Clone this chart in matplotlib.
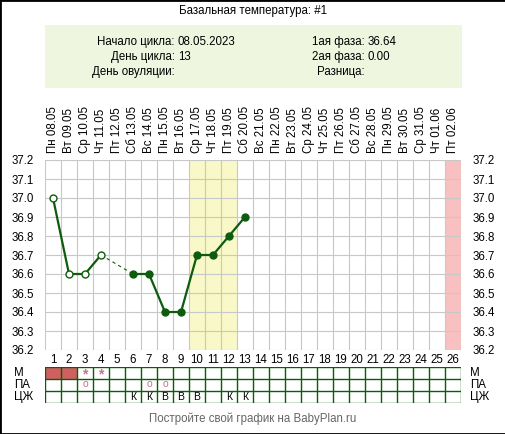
import matplotlib
matplotlib.use("Agg")
import matplotlib.pyplot as plt
from matplotlib.patches import Rectangle
import numpy as np

days = list(range(1, 27))
dates = ["Пн 08.05","Вт 09.05","Ср 10.05","Чт 11.05","Пт 12.05","Сб 13.05","Вс 14.05",
         "Пн 15.05","Вт 16.05","Ср 17.05","Чт 18.05","Пт 19.05","Сб 20.05","Вс 21.05",
         "Пн 22.05","Вт 23.05","Ср 24.05","Чт 25.05","Пт 26.05","Сб 27.05","Вс 28.05",
         "Пн 29.05","Вт 30.05","Ср 31.05","Чт 01.06","Пт 02.06"]
temp_days = [1, 2, 3, 4, 6, 7, 8, 9, 10, 11, 12, 13]
temps = [37.0, 36.6, 36.6, 36.7, 36.6, 36.6, 36.4, 36.4, 36.7, 36.7, 36.8, 36.9]
open_days = [1, 2, 3, 4]
m_fill = [1, 2]
m_star = [3, 4]
pa_o = [3, 7, 8]
cj_days = [6, 7, 8, 9, 10, 12, 13]
cj_vals = ["К", "К", "В", "В", "В", "К", "К"]
yellow_days = [10, 11, 12]
pink_days = [26]
yticks = [37.2, 37.1, 37.0, 36.9, 36.8, 36.7, 36.6, 36.5, 36.4, 36.3, 36.2]
info_left = [("Начало цикла:", "08.05.2023"), ("День цикла:", "13"), ("День овуляции:", "")]
info_right = [("1ая фаза:", "36.64"), ("2ая фаза:", "0.00"), ("Разница:", "")]

W, H = 506, 434
plt.rcParams['font.family'] = ['Liberation Sans', 'DejaVu Sans']
fig = plt.figure(figsize=(W/100, H/100), dpi=100)
fs = 8.3

def fx(px): return px / W
def fy(py): return 1 - py / H

fig.patches.append(Rectangle((0, 0), 1, 1, transform=fig.transFigure, fill=False,
                             edgecolor='black', lw=2))
fig.patches.append(Rectangle((fx(45), fy(88)), fx(417), 63/H, transform=fig.transFigure,
                             facecolor='#eef6e0', edgecolor='none'))
fig.text(0.5, fy(11), "Базальная температура: #1", ha='center', va='center', fontsize=fs)
for i, (lab, val) in enumerate(info_left):
    y = fy(42 + 15 * i)
    fig.text(fx(175), y, lab, ha='right', va='center', fontsize=fs)
    fig.text(fx(178), y, val, ha='left', va='center', fontsize=fs)
for i, (lab, val) in enumerate(info_right):
    y = fy(42 + 15 * i)
    fig.text(fx(365), y, lab, ha='right', va='center', fontsize=fs)
    fig.text(fx(368), y, val, ha='left', va='center', fontsize=fs)

ax = fig.add_axes([fx(45), fy(350), 416/W, 190/H])
ax.set_xlim(0.5, 26.5)
ax.set_ylim(36.2, 37.2)
for d in yellow_days:
    ax.axvspan(d - 0.5, d + 0.5, color='#f8f8c8', lw=0, zorder=0)
for d in pink_days:
    ax.axvspan(d - 0.5, d + 0.5, color='#f8c0c0', lw=0, zorder=0)
for x in np.arange(0.5, 27, 1):
    ax.axvline(x, color='#c8c8c8', lw=0.8, zorder=1)
for y in yticks:
    ax.axhline(y, color='#c8c8c8', lw=0.8, zorder=1)
for s in ax.spines.values():
    s.set_visible(False)
ax.set_xticks(days)
ax.set_xticklabels([str(d) for d in days], fontsize=fs)
ax.tick_params(axis='both', length=0, pad=3)
ax.set_yticks(yticks)
ax.set_yticklabels([f"{y:.1f}" for y in yticks], fontsize=fs)
ax.tick_params(axis='y', labelright=True, pad=8)
sec = ax.secondary_xaxis('top')
sec.set_xticks(days)
sec.set_xticklabels(dates, rotation=90, fontsize=fs)
sec.tick_params(length=0, pad=5)
for s in sec.spines.values():
    s.set_visible(False)

green = '#0d5c0d'
td = np.array(temp_days); tv = np.array(temps)
seg1 = td <= 4
ax.plot(td[seg1], tv[seg1], color=green, lw=1.6, zorder=3)
ax.plot(td[~seg1], tv[~seg1], color=green, lw=1.6, zorder=3)
ax.plot([4, 6], [temps[3], temps[4]], color=green, lw=0.8, ls=(0, (3, 3)), zorder=3)
for d, v in zip(temp_days, temps):
    ax.plot(d, v, 'o', ms=5, mec=green, mfc='white' if d in open_days else green,
            mew=1, zorder=4)

tb = fig.add_axes([fx(45), fy(403), 416/W, 36/H])
tb.set_xlim(0.5, 26.5)
tb.set_ylim(0, 3)
tb.axis('off')
for d in m_fill:
    tb.add_patch(Rectangle((d - 0.5, 2), 1, 1, facecolor='#d06060', edgecolor='none'))
for x in np.arange(0.5, 27, 1):
    tb.plot([x, x], [0, 3], color=green, lw=1)
for y in range(4):
    tb.plot([0.5, 26.5], [y, y], color=green, lw=1)
for d in m_star:
    tb.text(d, 2.35, "*", ha='center', va='center', color='#d07080', fontsize=10, fontweight='bold')
for d in pa_o:
    tb.text(d, 1.55, "o", ha='center', va='center', color='#d07080', fontsize=7.5)
for d, c in zip(cj_days, cj_vals):
    tb.text(d, 0.5, c, ha='center', va='center', fontsize=7.5)
for i, lab in enumerate(["М", "ПА", "ЦЖ"]):
    y = fy(373 + 12 * i)
    fig.text(fx(14), y, lab, ha='left', va='center', fontsize=fs)
    fig.text(fx(470), y, lab, ha='left', va='center', fontsize=fs)

fig.text(0.5, fy(419), "Постройте свой график на BabyPlan.ru", ha='center', va='center',
         fontsize=fs, color='#666666')

fig.savefig("out.png", dpi=100)
